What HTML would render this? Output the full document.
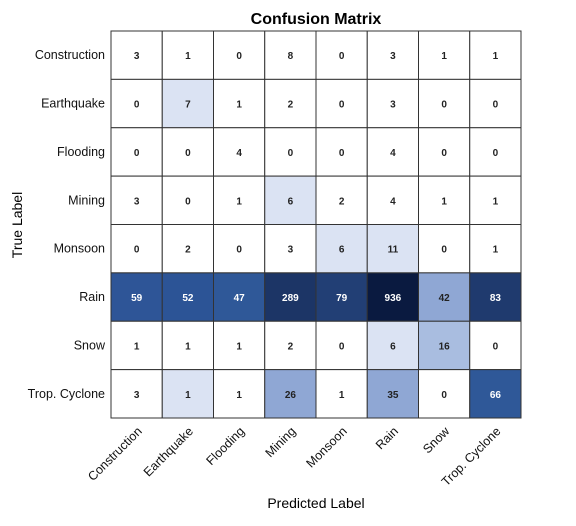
<!DOCTYPE html>
<html><head><meta charset="utf-8"><style>
body{margin:0;background:#fff;}
svg text{font-family:"Liberation Sans",sans-serif;}
</style></head><body>
<svg id="chart" width="576" height="521" xmlns="http://www.w3.org/2000/svg">
<text x="316" y="24" text-anchor="middle" font-size="16" font-weight="bold">Confusion Matrix</text>
<text transform="translate(22,225) rotate(-90)" text-anchor="middle" font-size="14">True Label</text>
<text x="316" y="508" text-anchor="middle" font-size="14">Predicted Label</text>
<g id="cells"></g><g id="labels"></g>
</svg>
<script>
const categories = ["Construction","Earthquake","Flooding","Mining","Monsoon","Rain","Snow","Trop. Cyclone"];
const values = [
[3,1,0,8,0,3,1,1],
[0,7,1,2,0,3,0,0],
[0,0,4,0,0,4,0,0],
[3,0,1,6,2,4,1,1],
[0,2,0,3,6,11,0,1],
[59,52,47,289,79,936,42,83],
[1,1,1,2,0,6,16,0],
[3,1,1,26,1,35,0,66]
];
const cellColors = [
["#fff","#fff","#fff","#fff","#fff","#fff","#fff","#fff"],
["#fff","#dbe3f3","#fff","#fff","#fff","#fff","#fff","#fff"],
["#fff","#fff","#fff","#fff","#fff","#fff","#fff","#fff"],
["#fff","#fff","#fff","#dbe3f3","#fff","#fff","#fff","#fff"],
["#fff","#fff","#fff","#fff","#dbe3f3","#dbe3f3","#fff","#fff"],
["#2e5597","#2c5496","#2f5898","#1c3566","#223f75","#0a1a40","#8fa7d4","#1f3a6e"],
["#fff","#fff","#fff","#fff","#fff","#dbe3f3","#a9bde0","#fff"],
["#fff","#dbe3f3","#fff","#8fa7d4","#fff","#8fa7d4","#fff","#2f5898"]
];
const NS="http://www.w3.org/2000/svg";
const L=111,R=521,T=31,B=418;
const cw=(R-L)/categories.length, rh=(B-T)/categories.length;
const xPos=i=>L+i*cw, yPos=i=>T+i*rh;
const cells=document.getElementById('cells'), labels=document.getElementById('labels');
function mk(tag,attrs){const e=document.createElementNS(NS,tag);for(const k in attrs)e.setAttribute(k,attrs[k]);return e;}
values.forEach((row,r)=>{
  row.forEach((v,c)=>{
    const rect=mk('rect',{x:xPos(c),y:yPos(r),width:cw,height:rh,fill:cellColors[r][c],stroke:"#333","stroke-width":1});
    
    
    cells.appendChild(rect);
    const dark=cellColors[r][c]!=="#fff"&&cellColors[r][c]!=="#dbe3f3"&&cellColors[r][c]!=="#a9bde0"&&cellColors[r][c]!=="#8fa7d4";
    const t=mk('text',{x:xPos(c)+cw/2,y:yPos(r)+rh/2+4,"text-anchor":"middle","font-size":10,"font-weight":"bold",fill:dark?"#fff":"#222"});
    t.textContent=v;
    
    
    labels.appendChild(t);
  });
});
categories.forEach((name,i)=>{
  const t=mk('text',{x:105,y:yPos(i)+rh/2+4,"text-anchor":"end","font-size":12.5,fill:"#111"});
  t.textContent=name;
  
  
  labels.appendChild(t);
  const cx=xPos(i)+cw/2+6, cy=B+14;
  const u=mk('text',{transform:`translate(${cx},${cy}) rotate(-45)`,"text-anchor":"end","font-size":12.5,fill:"#111"});
  u.textContent=name;
  
  
  labels.appendChild(u);
});
</script>
</body></html>
